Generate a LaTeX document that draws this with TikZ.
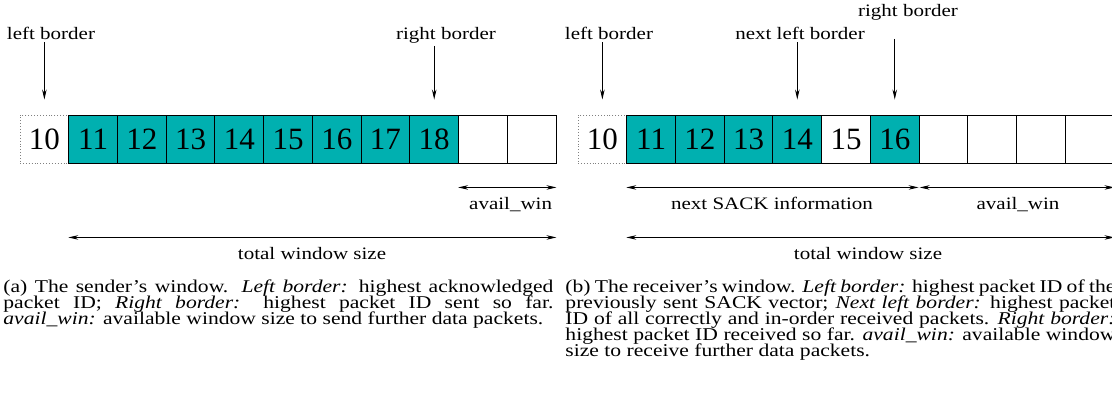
\documentclass[tikz,border=0pt]{standalone}
\usepackage{fontspec}
\setmainfont{Liberation Serif}[FakeStretch=1.2]
\newfontfamily\cellfont{Liberation Serif}
\usetikzlibrary{arrows.meta}
\definecolor{pktcyan}{RGB}{0,176,176}
\hyphenpenalty=10000
\exhyphenpenalty=10000
\tikzset{
  cell/.style={draw,line width=0.9pt,minimum width=48.73pt,minimum height=48pt,inner sep=0pt,
    font=\cellfont\fontsize{31}{31}\selectfont},
  acked/.style={cell,fill=pktcyan},
  oldcell/.style={cell,draw=gray,dotted},
  lbl/.style={inner sep=0pt,outer sep=2pt,font=\fontsize{17.5}{17.5}\selectfont},
  capt/.style={inner sep=0pt,text width=550pt,align=justify,
    font={\fontsize{18}{16}\selectfont\lineskiplimit-20pt\relax}}
}
\begin{document}
\begin{tikzpicture}[x=1pt,y=-1pt,>={Stealth[length=10pt,width=4.5pt]},line width=0.9pt]
\useasboundingbox (0,0) rectangle (1112,395);
% (a) sender
\node[oldcell] (a0) at (44.37,139) {10};
\foreach \n [count=\i] in {11,...,18}
  \node[acked] (a\i) at ({44.37+48.73*\i},139) {\n};
\foreach \i in {9,10}
  \node[cell] (a\i) at ({44.37+48.73*\i},139) {};
\node[lbl,anchor=base] (alb) at (51,40) {left border};
\node[lbl,anchor=base] (arb) at (446,40) {right border};
\draw[->] (alb.south -| a0) -- ([yshift=15pt]a0.north);
\draw[->] (arb.south -| a8) -- ([yshift=15pt]a8.north);
\draw[<->] ([yshift=-24pt]a9.south west) -- ([yshift=-24pt]a10.south east);
\node[lbl,anchor=base east] (aaw) at (554,210) {avail\_win};
\draw[<->] ([yshift=-74pt]a1.south west) -- ([yshift=-74pt]a10.south east);
\node[lbl,anchor=base] (atw) at (312,260) {total window size};
% (b) receiver
\node[oldcell] (b0) at (602.37,139) {10};
\foreach \n [count=\i] in {11,12,13,14}
  \node[acked] (b\i) at ({602.37+48.73*\i},139) {\n};
\node[cell] (b5) at ({602.37+48.73*5},139) {15};
\node[acked] (b6) at ({602.37+48.73*6},139) {16};
\foreach \i in {7,...,10}
  \node[cell] (b\i) at ({602.37+48.73*\i},139) {};
\node[lbl,anchor=base] (blb) at (609,40) {left border};
\node[lbl,anchor=base] (bnb) at (800,40) {next left border};
\node[lbl,anchor=base] (brb) at (908,17) {right border};
\draw[->] (blb.south -| b0) -- ([yshift=15pt]b0.north);
\draw[->] (bnb.south -| b4) -- ([yshift=15pt]b4.north);
\draw[->] ([yshift=-22pt]brb.base -| b6) -- ([yshift=15pt]b6.north);
\draw[<->] ([yshift=-24pt]b1.south west) -- ([yshift=-24pt,xshift=-1pt]b6.south east);
\draw[<->] ([yshift=-24pt,xshift=1pt]b7.south west) -- ([yshift=-24pt]b10.south east);
\node[lbl,anchor=base] (bsi) at (772,210) {next SACK information};
\node[lbl,anchor=base] (baw) at (1018,210) {avail\_win};
\draw[<->] ([yshift=-74pt]b1.south west) -- ([yshift=-74pt]b10.south east);
\node[lbl,anchor=base] (btw) at (868,260) {total window size};
% captions
\node[capt,anchor=north west] (capa) at (3,279) {(a) The sender's window. \emph{Left border:} highest acknowledged packet ID; \emph{Right border:} highest packet ID sent so far. \emph{avail\_win:} available window size to send further data packets.};
\node[capt,anchor=north west] (capb) at (565,279) {(b) The receiver's window. \emph{Left border:} highest packet ID of the previously sent SACK vector; \emph{Next left border:} highest packet ID of all correctly and in-order received packets. \emph{Right border:} highest packet ID received so far. \emph{avail\_win:} available window size to receive further data packets.};
\end{tikzpicture}
\end{document}
